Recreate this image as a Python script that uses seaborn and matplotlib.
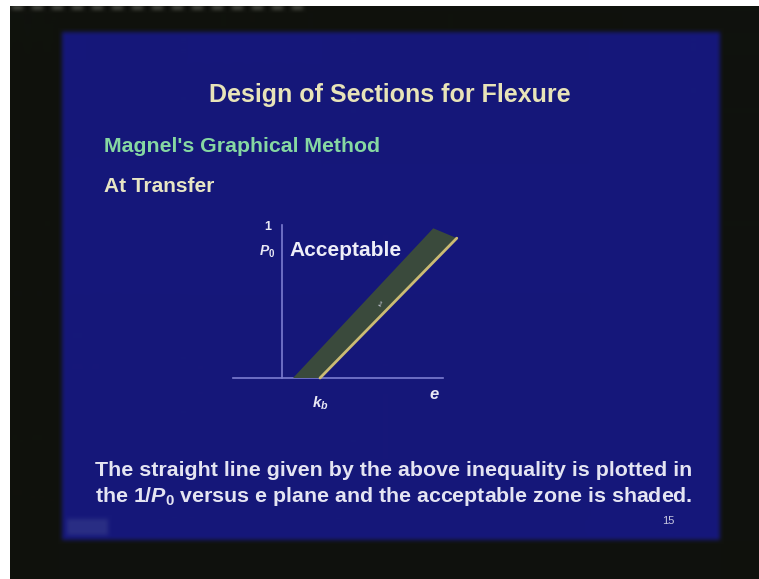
import numpy as np
import matplotlib
matplotlib.use("Agg")
import matplotlib.pyplot as plt
import seaborn as sns
import pandas as pd

# Magnel diagram at transfer: 1/P0 plotted against eccentricity e
kb = 0.5
line_e = [0.5, 2.3]
line_inv_p0 = [0.0, 1.84]
band_e = [0.145, 0.5, 2.3, 1.99]
band_inv_p0 = [0.0, 0.0, 1.84, 1.97]
axis_e_span = [-0.645, 2.12]
axis_p_span = [0.0, 2.01]

title = "Design of Sections for Flexure"
subtitle = "Magnel's Graphical Method"
stage = "At Transfer"
zone_label = "Acceptable"
caption = ["The straight line given by the above inequality is plotted in",
           "the 1/$P_0$ versus e plane and the acceptable zone is shaded."]
page_no = "15"

sns.set_style("white")
plt.rcParams["font.family"] = ["Liberation Sans", "DejaVu Sans"]
plt.rcParams["mathtext.fontset"] = "custom"
plt.rcParams["mathtext.rm"] = "Liberation Sans:bold"
plt.rcParams["mathtext.it"] = "Liberation Sans:bold:italic"
plt.rcParams["mathtext.bf"] = "Liberation Sans:bold"

W, H = 759, 579
fig = plt.figure(figsize=(W / 100, H / 100), dpi=100)


def box_blur(a, r):
    out = a.copy()
    for axis in (0, 1):
        pad = [(0, 0)] * a.ndim
        pad[axis] = (r + 1, r)
        p = np.pad(out, pad, mode="edge")
        c = np.cumsum(p, axis=axis)
        n = out.shape[axis]
        hi = np.take(c, np.arange(2 * r + 1, 2 * r + 1 + n), axis=axis)
        lo = np.take(c, np.arange(0, n), axis=axis)
        out = (hi - lo) / (2 * r + 1)
    return out


# slide background: dark frame with blue panel
img = np.zeros((H, W, 3))
img[:] = np.array([16, 18, 13]) / 255
yy, xx = np.mgrid[0:H, 0:W]
panel = (xx >= 62) & (xx <= 719) & (yy >= 32) & (yy <= 539)
img[panel] = np.array([22, 24, 122]) / 255
logo = (xx >= 67) & (xx <= 107) & (yy >= 519) & (yy <= 534)
img[logo] = np.array([42, 46, 132]) / 255
# faint row of dashes along the top edge
for x0 in range(12, 310, 20):
    img[6:9, x0:x0 + 11] = np.array([95, 97, 88]) / 255
img = box_blur(box_blur(img, 2), 2)
img[:6, :] = 1.0
img[:, :10] = 1.0

bg = fig.add_axes([0, 0, 1, 1])
bg.imshow(img, extent=[0, W, H, 0], aspect="auto", interpolation="bilinear")
bg.set_xlim(0, W)
bg.set_ylim(H, 0)
bg.axis("off")

bg.text(390, 95, title, ha="center", va="center", fontsize=18,
        fontweight="bold", color="#e8e4b8")
bg.text(104, 146, subtitle, ha="left", va="center", fontsize=15.3,
        fontweight="bold", color="#86d8a2")
bg.text(104, 186, stage, ha="left", va="center", fontsize=15,
        fontweight="bold", color="#e8e6c4")
bg.text(394, 470, caption[0], ha="center", va="center", fontsize=15.4,
        fontweight="bold", color="#e4e4f2")
bg.text(394, 496, caption[1], ha="center", va="center", fontsize=15.4,
        fontweight="bold", color="#e4e4f2")
bg.text(668, 521, page_no, ha="center", va="center", fontsize=8,
        color="#c8c8e0")

# inner chart axes: 76 px per data unit, origin at pixel (282, 378)
ppu = 76.0
ox, oy = 282.0, 378.0
xlim = (-0.8, 2.6)
ylim = (-0.6, 2.2)
left = (ox + xlim[0] * ppu) / W
right = (ox + xlim[1] * ppu) / W
bottom = (H - (oy - ylim[0] * ppu)) / H
top = (H - (oy - ylim[1] * ppu)) / H
ax = fig.add_axes([left, bottom, right - left, top - bottom])
ax.patch.set_alpha(0)
ax.set_xlim(*xlim)
ax.set_ylim(*ylim)

ax.fill(band_e, band_inv_p0, color="#3a4a3c", zorder=2, lw=0)
df = pd.DataFrame({"e": line_e, "inv_p0": line_inv_p0})
sns.lineplot(data=df, x="e", y="inv_p0", ax=ax, color="#cbbb74",
             linewidth=2.0, zorder=3)

for side in ("top", "right"):
    ax.spines[side].set_visible(False)
ax.spines["left"].set_position(("data", 0))
ax.spines["bottom"].set_position(("data", 0))
ax.spines["left"].set_bounds(*axis_p_span)
ax.spines["bottom"].set_bounds(*axis_e_span)
for side in ("left", "bottom"):
    ax.spines[side].set_color("#7c7cd0")
    ax.spines[side].set_linewidth(1.2)
    ax.spines[side].set_zorder(1)

ax.set_xticks([kb])
ax.set_xticklabels(["$k_b$"], fontsize=11, color="#e8e8f4")
ax.tick_params(axis="x", length=0, pad=12)
ax.set_yticks([])
ax.set_xlabel("")
ax.set_ylabel("")

ax.text(2.0, -0.22, "$e$", ha="center", va="center", fontsize=12,
        color="#e8e8f4")
ax.text(-0.19, 1.99, "1", ha="center", va="center", fontsize=9,
        fontweight="bold", color="#e8e8f4")
ax.text(-0.2, 1.66, "$P_0$", ha="center", va="center", fontsize=10,
        color="#e8e8f4")
ax.text(0.105, 1.68, zone_label, ha="left", va="center", fontsize=15,
        fontweight="bold", color="#eeeef8")
ax.text(1.27, 0.96, "1", ha="center", va="center", fontsize=5,
        color="#d8d8e8", rotation=-30, zorder=4)

fig.savefig("out.png", dpi=100)
